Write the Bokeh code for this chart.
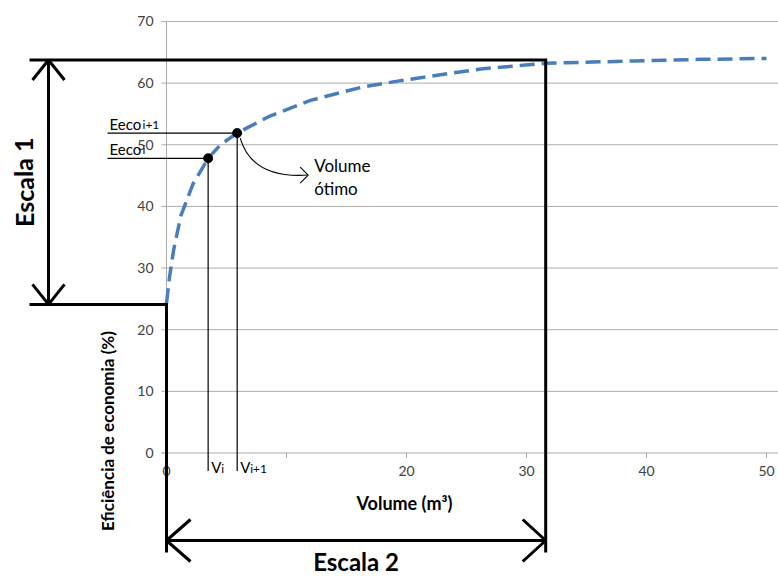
from bokeh.plotting import figure
from bokeh.models import Range1d
from bokeh.core.properties import value
from bokeh.embed import file_html
from bokeh.resources import INLINE

# ---------------- data ----------------
volume = [0, 0.25, 0.6, 1.2, 2.2, 3.47, 4.5, 5.89, 8.67, 12.0, 16.2, 19.5, 26.2, 31.6, 38.9, 44.5, 50.0]
eficiencia = [24.3, 28.5, 33.0, 38.5, 43.6, 47.8, 50.0, 51.9, 54.7, 57.2, 59.3, 60.4, 62.3, 63.2, 63.6, 63.85, 64.0]

pontos_v = [3.47, 5.89]          # V_i, V_i+1
pontos_e = [47.8, 51.9]          # Eeco_i, Eeco_i+1

x_ticks = [0, 10, 20, 30, 40, 50]
x_tick_labels = ["0", "", "20", "30", "40", "50"]
y_ticks = [0, 10, 20, 30, 40, 50, 60, 70]
y_tick_labels = ["0", "10", "20", "30", "40", "50", "60", "70"]

escala1 = [24.1, 63.75]          # efficiency range marked by "Escala 1"
escala2 = [0, 31.6]              # volume range marked by "Escala 2"

# ---------------- layout ----------------
W, H = 778, 576
X0, SX = 166.0, 12.0             # pixel of x=0 inside canvas, px per unit
Y0, SY = 452.5, 6.165            # pixel of y=0 inside canvas, px per unit

def dx(px):
    return px / SX

def dy(px):
    return px / SY

p = figure(width=W, height=H, output_backend="svg", toolbar_location=None,
           x_range=Range1d(-X0 / SX, (W - X0) / SX),
           y_range=Range1d(-(H - Y0) / SY, Y0 / SY),
           x_axis_type=None, y_axis_type=None, min_border=0,
           outline_line_color=None, background_fill_color="white",
           border_fill_color="white")

FONT = value("Lato")
GRID = "#ababab"
x_end = (W - X0) / SX + 1

# grid lines and axes
p.segment(x0=[0] * len(y_ticks[1:]), y0=y_ticks[1:], x1=[x_end] * len(y_ticks[1:]), y1=y_ticks[1:],
          line_color=GRID, line_width=1)
p.segment(x0=[dx(-5)] * len(y_ticks), y0=y_ticks, x1=[0] * len(y_ticks), y1=y_ticks,
          line_color=GRID, line_width=1)
p.segment(x0=[0], y0=[0], x1=[0], y1=[max(y_ticks)], line_color=GRID, line_width=1)
p.segment(x0=[dx(-5)], y0=[0], x1=[x_end], y1=[0], line_color=GRID, line_width=1)
p.segment(x0=x_ticks[1:], y0=[0] * 5, x1=x_ticks[1:], y1=[dy(-5)] * 5, line_color=GRID, line_width=1)

# tick labels
p.text(x=[dx(-13)] * len(y_ticks), y=y_ticks, text=y_tick_labels, text_font=FONT,
       text_font_size="14px", text_color="#404040", text_align="right", text_baseline="middle")
p.text(x=x_ticks, y=[dy(-18)] * len(x_ticks), text=x_tick_labels, text_font=FONT,
       text_font_size="14px", text_color="#404040", text_align="center", text_baseline="middle")

# axis titles
p.text(x=[dx(-59)], y=[dy(22)], text=["Eficiência de economia (%)"], text_font=FONT,
       text_font_size="17px", text_font_style="bold", text_color="black", angle=1.5708,
       text_align="center", text_baseline="middle")
p.text(x=[dx(238)], y=[dy(-50)], text=["Volume (m³)"], text_font=FONT,
       text_font_size="18px", text_font_style="bold", text_color="black",
       text_align="center", text_baseline="middle")

# curve
p.line(volume, eficiencia, line_color="#4a7ebb", line_width=3.5, line_dash="15 7")

# helper lines of the two points
p.segment(x0=[dx(-59)] * 2, y0=pontos_e, x1=pontos_v, y1=pontos_e, line_color="black", line_width=1.2)
p.segment(x0=pontos_v, y0=pontos_e, x1=pontos_v, y1=[dy(-18)] * 2, line_color="black", line_width=1.2)
p.scatter(pontos_v, pontos_e, size=9, color="black")

# labels Eeco_i, Eeco_i+1
p.text(x=[dx(-57)] * 2, y=[e + dy(9.5) for e in pontos_e], text=["Eeco", "Eeco"], text_font=FONT,
       text_font_size="15px", text_color="black", text_align="left", text_baseline="middle")
p.text(x=[dx(-24)] * 2, y=[e + dy(8.5) for e in pontos_e], text=["i", "i+1"], text_font=FONT,
       text_font_size="12px", text_color="black", text_align="left", text_baseline="middle")
# labels V_i, V_i+1
p.text(x=[v + dx(3) for v in pontos_v], y=[dy(-14)] * 2, text=["V", "V"], text_font=FONT,
       text_font_size="15px", text_color="black", text_align="left", text_baseline="middle")
p.text(x=[v + dx(13) for v in pontos_v], y=[dy(-15)] * 2, text=["i", "i+1"], text_font=FONT,
       text_font_size="12px", text_color="black", text_align="left", text_baseline="middle")

# "Volume ótimo" curved arrow
vx, vy = pontos_v[1], pontos_e[1]
p.quadratic(x0=[vx + dx(3)], y0=[vy - dy(5)], x1=[vx + dx(71)], y1=[vy - dy(42)],
            cx=[vx + dx(15)], cy=[vy - dy(46)], line_color="black", line_width=1.1)
p.multi_line(xs=[[vx + dx(63), vx + dx(71), vx + dx(63)]],
             ys=[[vy - dy(34), vy - dy(42), vy - dy(50)]], line_color="black", line_width=1.1)
p.text(x=[vx + dx(77)] * 2, y=[vy - dy(32), vy - dy(55)], text=["Volume", "ótimo"], text_font=FONT,
       text_font_size="17px", text_color="black", text_align="left", text_baseline="middle")

# Escala brackets
left = dx(-137)
bottom = dy(-99.5)
p.multi_line(xs=[[left, escala2[1], escala2[1]], [left, escala2[0], escala2[0]]],
             ys=[[escala1[1], escala1[1], bottom], [escala1[0], escala1[0], bottom]],
             line_color="black", line_width=3, line_join="miter")

# Escala 1 double arrow
a1 = dx(-118)
p.segment(x0=[a1], y0=[escala1[0]], x1=[a1], y1=[escala1[1]], line_color="black", line_width=3)
p.multi_line(xs=[[a1 - dx(16), a1, a1 + dx(16)], [a1 - dx(16), a1, a1 + dx(16)]],
             ys=[[escala1[1] - dy(20), escala1[1], escala1[1] - dy(20)],
                 [escala1[0] + dy(20), escala1[0], escala1[0] + dy(20)]],
             line_color="black", line_width=3)
p.text(x=[dx(-143)], y=[(escala1[0] + escala1[1]) / 2], text=["Escala 1"], text_font=FONT,
       text_font_size="25px", text_font_style="bold", text_color="black", angle=1.5708,
       text_align="center", text_baseline="middle")

# Escala 2 double arrow
a2 = dy(-87.5)
p.segment(x0=[escala2[0]], y0=[a2], x1=[escala2[1]], y1=[a2], line_color="black", line_width=3)
p.multi_line(xs=[[escala2[0] + dx(24), escala2[0], escala2[0] + dx(24)],
                 [escala2[1] - dx(23), escala2[1], escala2[1] - dx(23)]],
             ys=[[a2 + dy(21), a2, a2 - dy(21)], [a2 + dy(21), a2, a2 - dy(21)]],
             line_color="black", line_width=3)
p.text(x=[(escala2[0] + escala2[1]) / 2], y=[dy(-108)], text=["Escala 2"], text_font=FONT,
       text_font_size="24px", text_font_style="bold", text_color="black",
       text_align="center", text_baseline="middle")

open("out.html", "w").write(file_html(p, INLINE))
